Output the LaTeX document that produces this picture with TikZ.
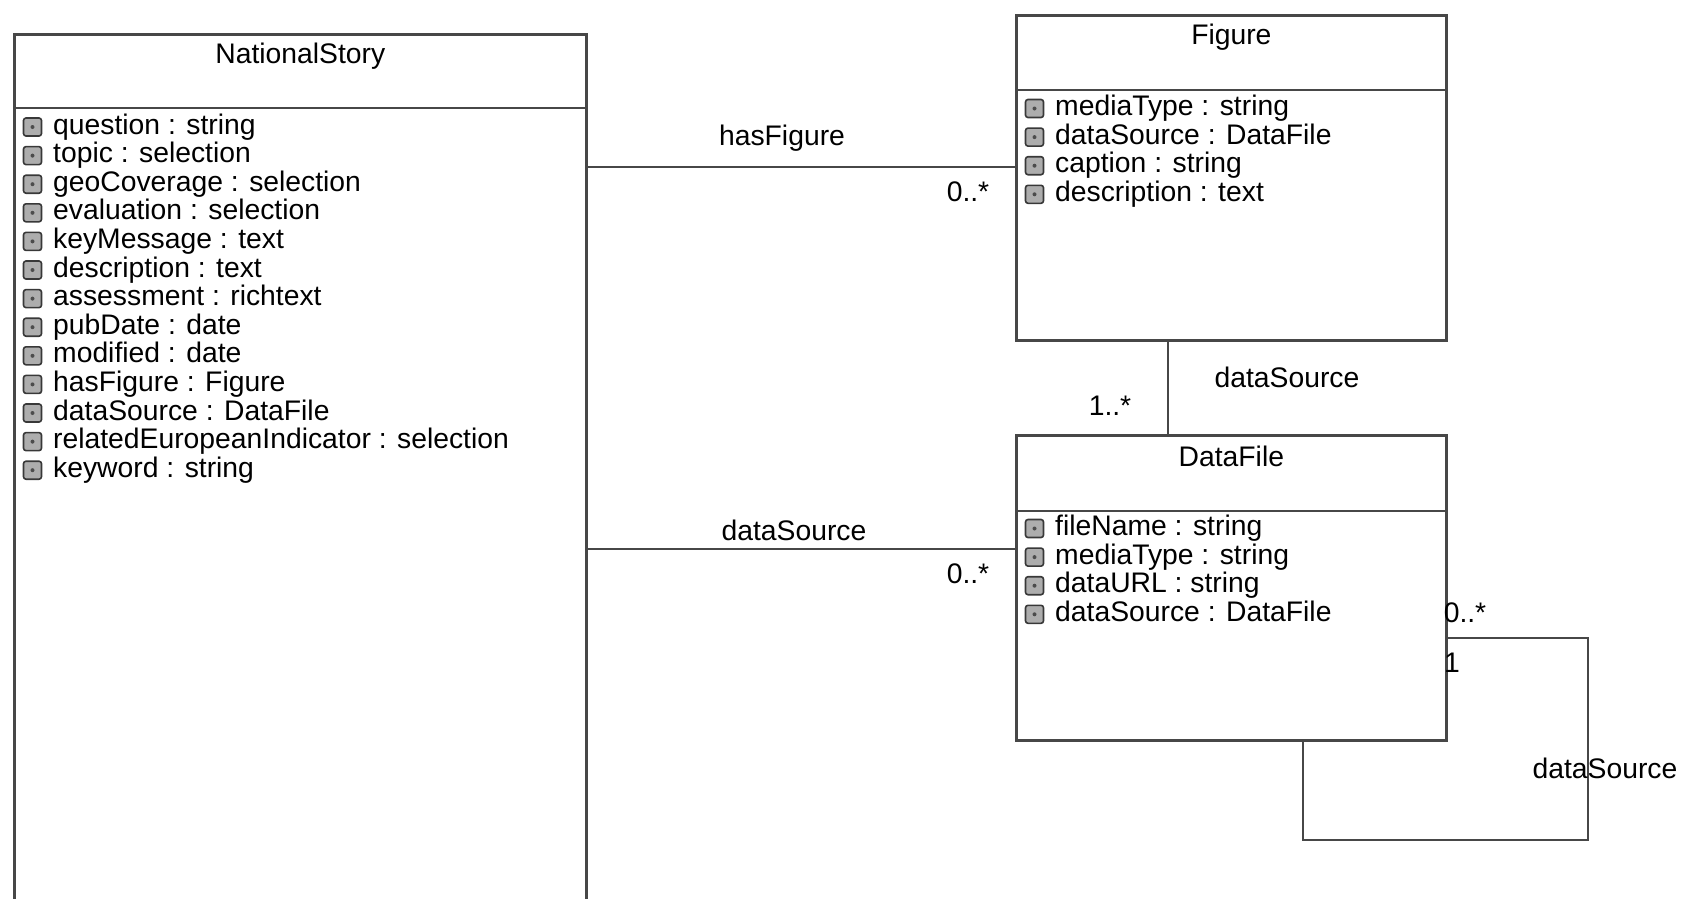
\documentclass[tikz,border=0pt]{standalone}
\usepackage{fontspec}
\setmainfont{Liberation Sans}
\usetikzlibrary{positioning}

\tikzset{
  classbox/.style={draw=black!72, line width=2.7pt, anchor=north west, inner sep=0pt},
  classline/.style={draw=black!72, line width=2.7pt},
  assoc/.style={draw=black!72, line width=2.7pt},
  attr/.style={anchor=west, inner sep=0pt, text height=20pt, text depth=6pt},
  attricon/.style={draw=black!78, fill=black!32, line width=1.6pt, rounded corners=2.5pt,
    minimum size=18pt, inner sep=0pt,
    path picture={\fill[black!70] (path picture bounding box.center) circle (2pt);}},
  multlabel/.style={inner sep=0pt}
}

\begin{document}
\begin{tikzpicture}[x=1pt,y=-1pt,font=\fontsize{28.3pt}{28.6pt}\selectfont]

      \useasboundingbox (0,0) rectangle (1681,898);
      \clip (0,0) rectangle (1681,898);

      % The NationalStory class.
      \node [classbox, minimum width=572pt, minimum height=890pt] (ns) at (13,33) {};
      \draw [classline] (ns.west |- 0,108) -- (ns.east |- 0,108);
      \node (ns-title) at (ns.north |- 0,56) {NationalStory};
      \foreach \a [count=\i] in {question : string, topic : selection,
          geoCoverage : selection, evaluation : selection, keyMessage : text,
          description : text, assessment : richtext, pubDate : date,
          modified : date, hasFigure : Figure, dataSource : DataFile,
          relatedEuropeanIndicator : selection, keyword : string}
      {
        \node [attricon] (ns-icon\i) at (32.5, 127+28.6*\i-28.6) {};
        \node [attr] (ns-attr\i) at (53, 127+28.6*\i-28.6) {\a};
      }

      % The Figure class.
      \node [classbox, minimum width=430pt, minimum height=325pt] (fig) at (1015,14) {};
      \draw [classline] (fig.west |- 0,90) -- (fig.east |- 0,90);
      \node (fig-title) at (fig.north |- 0,37) {Figure};
      \foreach \a [count=\i] in {mediaType : string, dataSource : DataFile,
          caption : string, description : text}
      {
        \node [attricon] (fig-icon\i) at (1034.5, 108.5+28.6*\i-28.6) {};
        \node [attr] (fig-attr\i) at (1055, 108.5+28.6*\i-28.6) {\a};
      }

      % The DataFile class.
      \node [classbox, minimum width=430pt, minimum height=305pt] (df) at (1015,434) {};
      \draw [classline] (df.west |- 0,511) -- (df.east |- 0,511);
      \node (df-title) at (df.north |- 0,456) {DataFile};
      \foreach \a [count=\i] in {fileName : string, mediaType : string,
          dataURL : string, dataSource : DataFile}
      {
        \node [attricon] (df-icon\i) at (1034.5, 528.5+28.6*\i-28.6) {};
        \node [attr] (df-attr\i) at (1055, 528.5+28.6*\i-28.6) {\a};
      }

      % NationalStory to Figure.
      \draw [assoc] (ns.east |- 0,167) -- (fig.west |- 0,167);
      \node (hasfig-name) at (782,138) {hasFigure};
      \node [multlabel] (hasfig-mult) at (968,192) {0..*};

      % NationalStory to DataFile.
      \draw [assoc] (ns.east |- 0,549) -- (df.west |- 0,549);
      \node (nsdata-name) at (794,530) {dataSource};
      \node [multlabel] (nsdata-mult) at (968,574) {0..*};

      % Figure to DataFile.
      \draw [assoc] (fig.south -| 1168,0) -- (df.north -| 1168,0);
      \node (figdata-name) at (1287,377) {dataSource};
      \node [multlabel] (figdata-mult) at (1110,406) {1..*};

      % The DataFile loop.
      \draw [assoc] (df.east |- 0,638) -| (1588,840) -| (df.south -| 1303,0);
      \node (dfloop-name) at (1605,768) {dataSource};
      \node [multlabel] (dfloop-mult) at (1465,613) {0..*};
      \node [multlabel] (dfloop-one) at (1452,663) {1};

    \end{tikzpicture}
\end{document}
